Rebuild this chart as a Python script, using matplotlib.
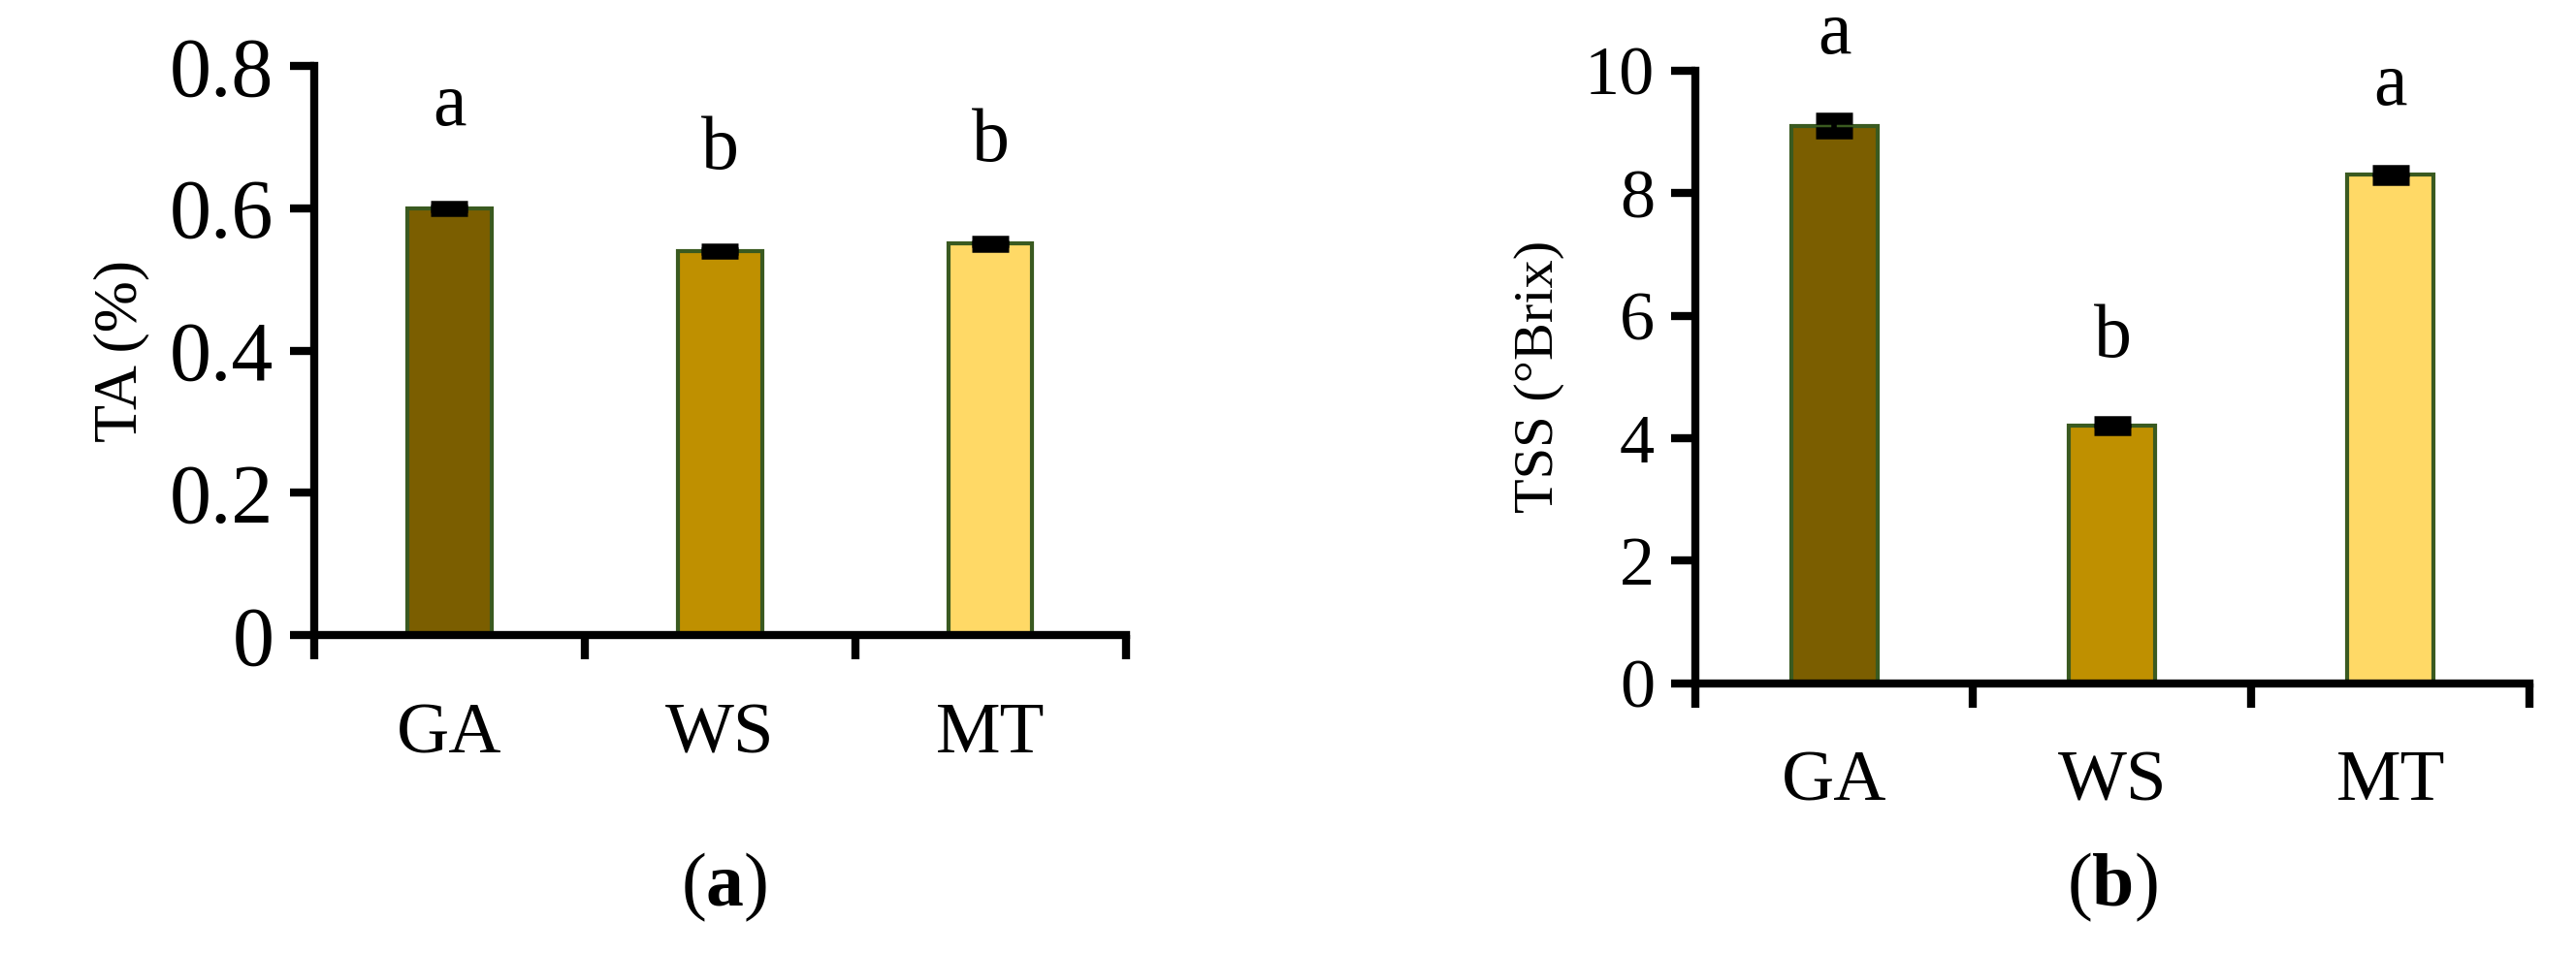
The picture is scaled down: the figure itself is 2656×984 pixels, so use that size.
import matplotlib
matplotlib.use("Agg")
import matplotlib.pyplot as plt

plt.rcParams['font.family'] = ['Liberation Serif', 'DejaVu Serif']
plt.rcParams['mathtext.fontset'] = 'custom'
plt.rcParams['mathtext.rm'] = 'Liberation Serif'
plt.rcParams['mathtext.bf'] = 'Liberation Serif:bold'

categories = ["GA", "WS", "MT"]
ta_values = [0.60, 0.54, 0.55]
ta_err = [0.003, 0.003, 0.003]
ta_letters = ["a", "b", "b"]
tss_values = [9.1, 4.2, 8.3]
tss_err = [0.12, 0.06, 0.07]
tss_letters = ["a", "b", "a"]
colors = ["#7B5E00", "#BF9000", "#FFD966"]
edge = "#3A5A20"

fig = plt.figure(figsize=(26.56, 9.84), dpi=100)
ax1 = fig.add_axes([0.122, 0.334, 0.315, 0.597])
ax2 = fig.add_axes([0.658, 0.284, 0.324, 0.642])

def draw(ax, vals, errs, letters, ymax, yticks, ylabel, letter_off, tickfs, ylabfs):
    x = list(range(len(vals)))
    ax.bar(x, vals, width=0.31, color=colors, edgecolor=edge, linewidth=3, zorder=2)
    ax.errorbar(x, vals, yerr=errs, fmt='none', ecolor='black', elinewidth=4,
                capsize=14, capthick=9, zorder=3)
    for xi, v, e, l in zip(x, vals, errs, letters):
        ax.text(xi, v + e + letter_off, l, ha='center', va='bottom', fontsize=56)
    ax.set_xlim(-0.5, len(vals) - 0.5)
    ax.set_ylim(0, ymax)
    ax.set_yticks(yticks)
    ax.set_yticklabels([f"{t:g}" for t in yticks], fontsize=tickfs)
    ax.set_xticks([i - 0.5 for i in range(len(vals) + 1)])
    ax.set_xticklabels([])
    ax.set_xticks(x, minor=True)
    ax.set_xticklabels(categories, minor=True, fontsize=54)
    ax.tick_params(axis='x', which='minor', length=0, pad=50)
    ax.tick_params(axis='both', which='major', direction='out', length=18, width=6)
    ax.tick_params(axis='y', pad=12)
    for s in ['top', 'right']:
        ax.spines[s].set_visible(False)
    for s in ['left', 'bottom']:
        ax.spines[s].set_linewidth(6)
    ax.set_ylabel(ylabel, fontsize=ylabfs, labelpad=15)

draw(ax1, ta_values, ta_err, ta_letters, 0.8, [0, 0.2, 0.4, 0.6, 0.8], "TA (%)", 0.09, 62, 46)
draw(ax2, tss_values, tss_err, tss_letters, 10, [0, 2, 4, 6, 8, 10], "TSS (°Brix)", 0.8, 52, 42)
fig.text(0.281, 0.07, r"($\mathbf{a}$)", ha='center', va='center', fontsize=56)
fig.text(0.82, 0.07, r"($\mathbf{b}$)", ha='center', va='center', fontsize=56)
fig.savefig("out.png", dpi=100, facecolor='white')
